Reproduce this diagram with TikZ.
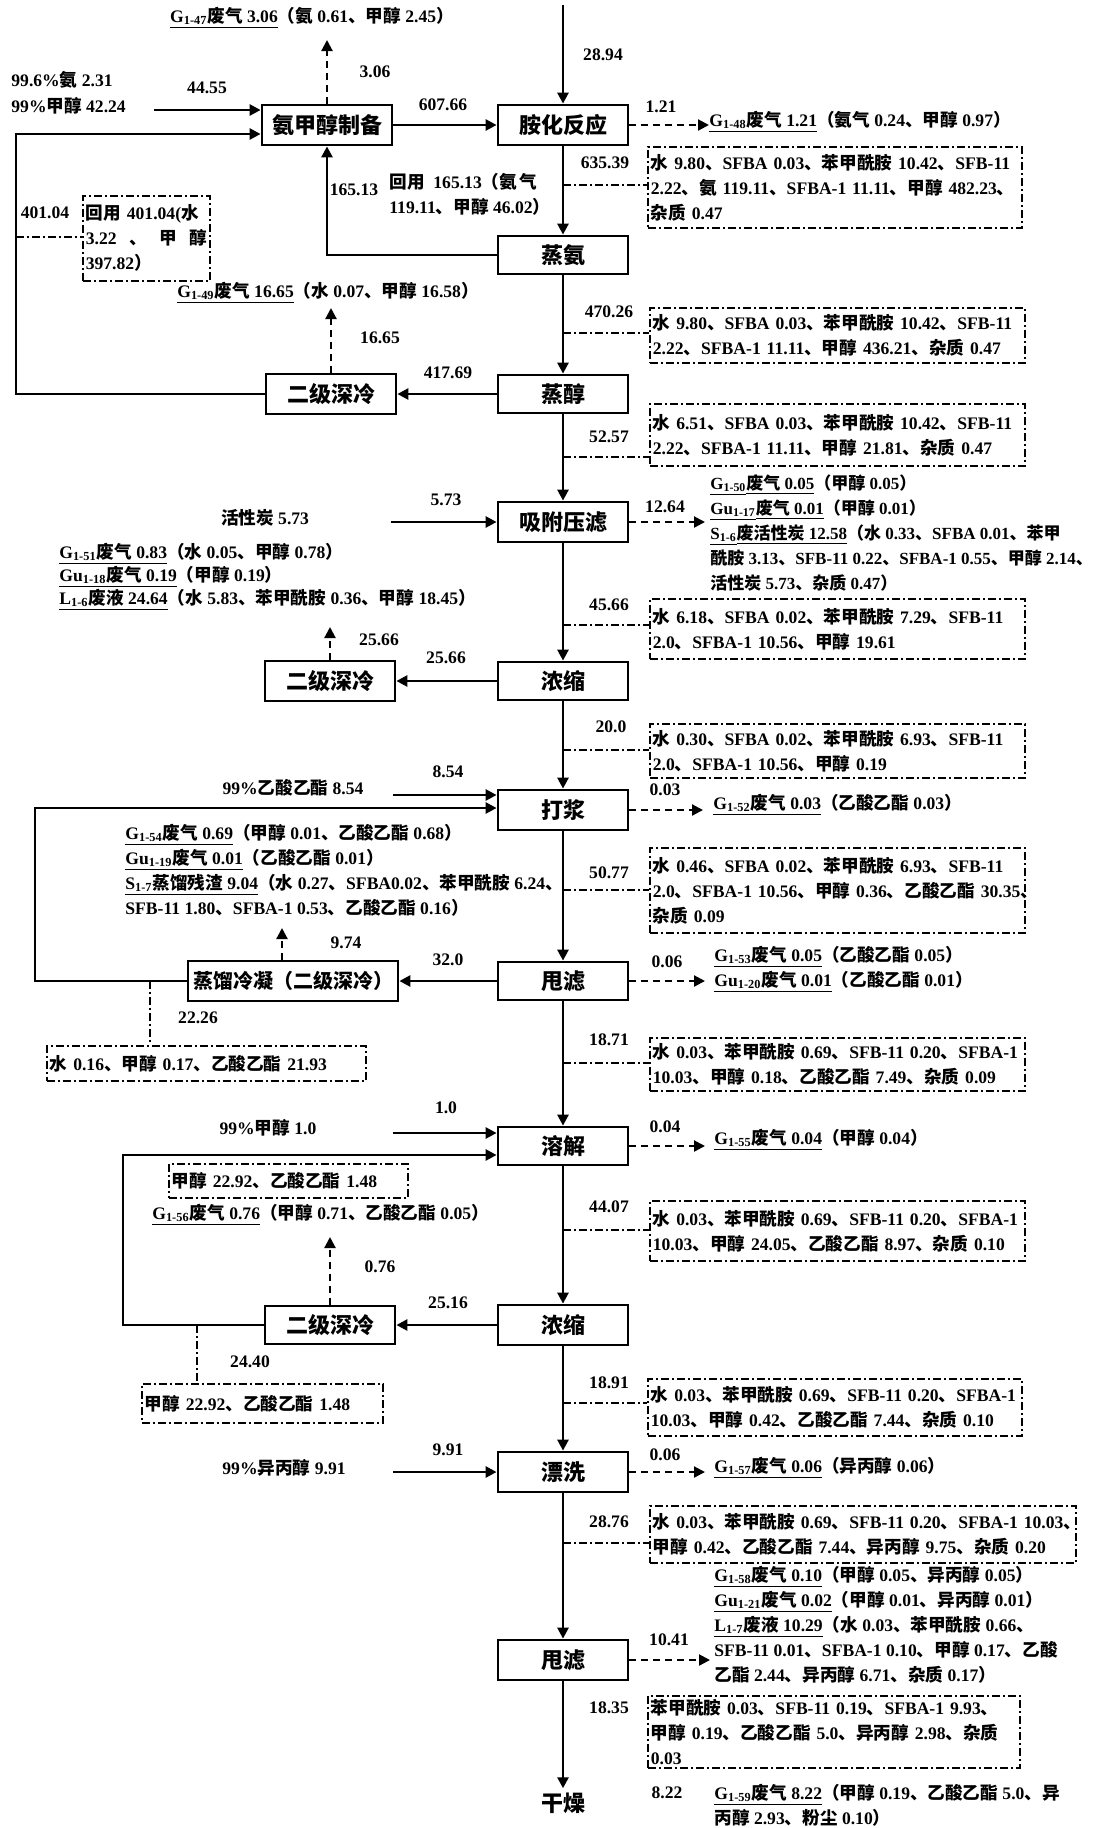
\documentclass[tikz,border=0pt]{standalone}
\usepackage{fontspec}
\setmainfont{Liberation Serif}
\newfontfamily\cjkf{Noto Sans CJK SC}
\usetikzlibrary{arrows.meta}
\newcommand\latf{\rmfamily}
\XeTeXinterchartokenstate=1
\newXeTeXintercharclass\CJKcls
\makeatletter
\def\setcjkrange#1#2{\count@=#1\relax\loop\XeTeXcharclass\count@=\CJKcls\relax\ifnum\count@<#2\relax\advance\count@\@ne\repeat}
\setcjkrange{"3000}{"303F}
\setcjkrange{"4E00}{"9FFF}
\setcjkrange{"FF00}{"FFEF}
\makeatother
\XeTeXinterchartoks 0 \CJKcls = {\cjkf}
\XeTeXinterchartoks 4095 \CJKcls = {\cjkf}
\XeTeXinterchartoks \CJKcls 0 = {\latf}
\XeTeXinterchartoks \CJKcls 4095 = {\latf}
\newcommand\bodyfont{\fontsize{8.8}{12.5}\selectfont\bfseries}
\newcommand\boxfont{\fontsize{11}{13}\selectfont\bfseries}
\newcommand\Lb[1]{\mbox{#1}}
\newcommand\Gs[2]{\underline{#1\textsubscript{#2}}}
\tikzset{
  every node/.style={inner sep=0pt},
  mbox/.style={draw, line width=1.4pt, minimum width=65pt, minimum height=20pt, font=\boxfont},
  dbox/.style={draw, line width=0.8pt, dash pattern=on 4pt off 1.5pt on 1pt off 1.5pt, anchor=north west, align=left, font=\bodyfont, inner xsep=1.5pt},
  arr/.style={line width=1.3pt, -{Triangle[length=5.5pt,width=5.5pt]}},
  darr/.style={line width=1.1pt, dash pattern=on 3.5pt off 2.5pt, -{Triangle[length=5.5pt,width=5.5pt]}},
  ddash/.style={line width=0.8pt, dash pattern=on 4pt off 1.5pt on 1pt off 1.5pt},
  num/.style={font=\bodyfont},
  lbl/.style={font=\bodyfont, anchor=west},
  txt/.style={font=\bodyfont, anchor=north west, align=left}
}
\begin{document}
\begin{tikzpicture}[x=0.5pt,y=-0.5pt]
\useasboundingbox (0,0) rectangle (1109,1828);
\fill[white] (0,0) rectangle (1109,1828);

% main column
\node[mbox] (m1) at (563,125) {胺化反应};
\node[mbox, minimum height=19pt] (m2) at (563,255) {蒸氨};
\node[mbox, minimum height=19pt] (m3) at (563,394) {蒸醇};
\node[mbox] (m4) at (563,522) {吸附压滤};
\node[mbox, minimum height=19pt] (m5) at (563,681) {浓缩};
\node[mbox] (m6) at (563,810) {打浆};
\node[mbox, minimum height=19pt] (m7) at (563,981) {甩滤};
\node[mbox, minimum height=19pt] (m8) at (563,1146) {溶解};
\node[mbox] (m9) at (563,1325) {浓缩};
\node[mbox] (m10) at (563,1472) {漂洗};
\node[mbox] (m11) at (563,1660) {甩滤};
\node[font=\boxfont, inner sep=2pt] (dry) at (563,1803) {干燥};

% left column
\node[mbox] (L1) at (327,125) {氨甲醇制备};
\node[mbox] (L2) at (331,394) {二级深冷};
\node[mbox] (L3) at (330,681) {二级深冷};
\node[mbox, minimum width=105pt, font=\fontsize{10}{12}\selectfont\bfseries] (L4) at (293,981) {蒸馏冷凝（二级深冷）};
\node[mbox, minimum height=19pt] (L5) at (330,1325) {二级深冷};

% dash-dot boxes
\node[dbox, text width=184pt, minimum height=40.5pt] (d1) at (647,146) {\Lb{水 9.80、SFBA 0.03、苯甲酰胺 10.42、SFB-11}\\\Lb{2.22、氨 119.11、SFBA-1 11.11、甲醇 482.23、}\\\Lb{杂质 0.47}};
\node[dbox, text width=184.5pt, minimum height=27.5pt] (d2) at (649,307) {\Lb{水 9.80、SFBA 0.03、苯甲酰胺 10.42、SFB-11}\\\Lb{2.22、SFBA-1 11.11、甲醇 436.21、杂质 0.47}};
\node[dbox, text width=60.5pt, minimum height=42.5pt] (d3) at (82,195) {\Lb{回用 401.04(水}\\\Lb{\hbox to 60.5pt{3.22\hfil 、\hfil 甲\hfil 醇}}\\\Lb{397.82）}};
\node[dbox, text width=184.5pt, minimum height=31pt] (d4) at (649,403) {\Lb{水 6.51、SFBA 0.03、苯甲酰胺 10.42、SFB-11}\\\Lb{2.22、SFBA-1 11.11、甲醇 21.81、杂质 0.47}};
\node[dbox, text width=184.5pt, minimum height=30pt] (d5) at (649,598) {\Lb{水 6.18、SFBA 0.02、苯甲酰胺 7.29、SFB-11}\\\Lb{2.0、SFBA-1 10.56、甲醇 19.61}};
\node[dbox, text width=184.5pt, minimum height=27pt] (d6) at (649,723) {\Lb{水 0.30、SFBA 0.02、苯甲酰胺 6.93、SFB-11}\\\Lb{2.0、SFBA-1 10.56、甲醇 0.19}};
\node[dbox, text width=184.5pt, minimum height=42.5pt] (d7) at (649,847) {\Lb{水 0.46、SFBA 0.02、苯甲酰胺 6.93、SFB-11}\\\Lb{2.0、SFBA-1 10.56、甲醇 0.36、乙酸乙酯 30.35、}\\\Lb{杂质 0.09}};
\node[dbox, text width=156.5pt, minimum height=17.5pt] (d8) at (46,1045) {\Lb{水 0.16、甲醇 0.17、乙酸乙酯 21.93}};
\node[dbox, text width=184.5pt, minimum height=26.5pt] (d9) at (649,1037) {\Lb{水 0.03、苯甲酰胺 0.69、SFB-11 0.20、SFBA-1}\\\Lb{10.03、甲醇 0.18、乙酸乙酯 7.49、杂质 0.09}};
\node[dbox, text width=116.5pt, minimum height=17pt] (d10) at (168,1163) {\Lb{甲醇 22.92、乙酸乙酯 1.48}};
\node[dbox, text width=184.5pt, minimum height=30pt] (d11) at (649,1200) {\Lb{水 0.03、苯甲酰胺 0.69、SFB-11 0.20、SFBA-1}\\\Lb{10.03、甲醇 24.05、乙酸乙酯 8.97、杂质 0.10}};
\node[dbox, text width=117.5pt, minimum height=19.5pt] (d12) at (141,1383) {\Lb{甲醇 22.92、乙酸乙酯 1.48}};
\node[dbox, text width=184pt, minimum height=28.5pt] (d13) at (647,1378) {\Lb{水 0.03、苯甲酰胺 0.69、SFB-11 0.20、SFBA-1}\\\Lb{10.03、甲醇 0.42、乙酸乙酯 7.44、杂质 0.10}};
\node[dbox, text width=210pt, minimum height=28.5pt] (d14) at (649,1505) {\Lb{水 0.03、苯甲酰胺 0.69、SFB-11 0.20、SFBA-1 10.03、}\\\Lb{甲醇 0.42、乙酸乙酯 7.44、异丙醇 9.75、杂质 0.20}};
\node[dbox, text width=183pt, minimum height=36pt] (d15) at (647,1695) {\Lb{苯甲酰胺 0.03、SFB-11 0.19、SFBA-1 9.93、}\\\Lb{甲醇 0.19、乙酸乙酯 5.0、异丙醇 2.98、杂质}\\\Lb{0.03}};

% coordinates
\coordinate (src) at (563,5);
\coordinate (u1) at (327,40);
\coordinate (u2) at (331,308);
\coordinate (u3) at (330,627);
\coordinate (u4) at (282,928);
\coordinate (u5) at (330,1237);
\coordinate (r1) at (709,125);
\coordinate (r4) at (705,522);
\coordinate (r6) at (703,810);
\coordinate (r7) at (705,981);
\coordinate (r8) at (705,1146);
\coordinate (r10) at (705,1472);
\coordinate (r11) at (710,1660);
\coordinate (i1) at (154,110);
\coordinate (i2) at (391,522);
\coordinate (i3) at (393,795);
\coordinate (i4) at (393,1133);
\coordinate (i5) at (393,1472);
\coordinate (lp1) at (16,134);
\coordinate (lp2) at (35,808);
\coordinate (lp3) at (123,1155);
\coordinate (k1) at (563,185);
\coordinate (k2) at (563,333);
\coordinate (k3) at (16,237);
\coordinate (k4) at (563,457);
\coordinate (k5) at (563,625);
\coordinate (k6) at (563,750);
\coordinate (k7) at (563,890);
\coordinate (k8) at (150,981);
\coordinate (k9) at (563,1063);
\coordinate (k11) at (563,1230);
\coordinate (k12) at (197,1325);
\coordinate (k13) at (563,1403);
\coordinate (k14) at (563,1543);

% main flow
\draw[arr] (src) -- (m1);
\draw[arr] (m1) -- (m2);
\draw[arr] (m2) -- (m3);
\draw[arr] (m3) -- (m4);
\draw[arr] (m4) -- (m5);
\draw[arr] (m5) -- (m6);
\draw[arr] (m6) -- (m7);
\draw[arr] (m7) -- (m8);
\draw[arr] (m8) -- (m9);
\draw[arr] (m9) -- (m10);
\draw[arr] (m10) -- (m11);
\draw[arr] (m11) -- (dry);

% side flows
\draw[arr] (L1) -- (m1);
\draw[arr] (m2.west) -| (L1.south);
\draw[arr] (m3) -- (L2);
\draw[arr] (m5) -- (L3);
\draw[arr] (m7) -- (L4);
\draw[arr] (m9) -- (L5);
\draw[arr] (L2.west) -| (lp1) -- (lp1 -| L1.west);
\draw[arr] (L4.west) -| (lp2) -- (lp2 -| m6.west);
\draw[arr] (L5.west) -| (lp3) -- (lp3 -| m8.west);
\draw[arr] (i1) -- (i1 -| L1.west);
\draw[arr] (i2) -- (i2 -| m4.west);
\draw[arr] (i3) -- (i3 -| m6.west);
\draw[arr] (i4) -- (i4 -| m8.west);
\draw[arr] (i5) -- (i5 -| m10.west);

% dashed emissions
\draw[darr] (L1) -- (u1);
\draw[darr] (L2) -- (u2);
\draw[darr] (L3) -- (u3);
\draw[darr] (u4 |- L4.north) -- (u4);
\draw[darr] (L5) -- (u5);
\draw[darr] (m1) -- (r1);
\draw[darr] (m4) -- (r4);
\draw[darr] (m6) -- (r6);
\draw[darr] (m7) -- (r7);
\draw[darr] (m8) -- (r8);
\draw[darr] (m10) -- (r10);
\draw[darr] (m11) -- (r11);

% dash-dot connectors
\draw[ddash] (k1) -- (k1 -| d1.west);
\draw[ddash] (k2) -- (k2 -| d2.west);
\draw[ddash] (k3) -- (k3 -| d3.west);
\draw[ddash] (k4) -- (k4 -| d4.west);
\draw[ddash] (k5) -- (k5 -| d5.west);
\draw[ddash] (k6) -- (k6 -| d6.west);
\draw[ddash] (k7) -- (k7 -| d7.west);
\draw[ddash] (k8) -- (k8 |- d8.north);
\draw[ddash] (k9) -- (k9 -| d9.west);
\draw[ddash] (k11) -- (k11 -| d11.west);
\draw[ddash] (k12) -- (k12 |- d12.north);
\draw[ddash] (k13) -- (k13 -| d13.west);
\draw[ddash] (k14) -- (k14 -| d14.west);

% numbers
\node[num] (n1) at (603,55) {28.94};
\node[num] (n2) at (375,72) {3.06};
\node[num] (n3) at (207,88) {44.55};
\node[num] (n4) at (443,105) {607.66};
\node[num] (n5) at (661,107) {1.21};
\node[num] (n6) at (605,163) {635.39};
\node[num] (n7) at (354,190) {165.13};
\node[num] (n8) at (45,213) {401.04};
\node[num] (n9) at (609,312) {470.26};
\node[num] (n10) at (380,338) {16.65};
\node[num] (n11) at (448,373) {417.69};
\node[num] (n12) at (609,437) {52.57};
\node[num] (n13) at (446,500) {5.73};
\node[num] (n14) at (665,507) {12.64};
\node[num] (n15) at (609,605) {45.66};
\node[num] (n16) at (379,640) {25.66};
\node[num] (n17) at (446,658) {25.66};
\node[num] (n18) at (611,727) {20.0};
\node[num] (n19) at (448,772) {8.54};
\node[num] (n20) at (665,790) {0.03};
\node[num] (n21) at (609,873) {50.77};
\node[num] (n22) at (346,943) {9.74};
\node[num] (n23) at (448,960) {32.0};
\node[num] (n24) at (667,962) {0.06};
\node[num] (n25) at (198,1018) {22.26};
\node[num] (n26) at (609,1040) {18.71};
\node[num] (n27) at (446,1108) {1.0};
\node[num] (n28) at (665,1127) {0.04};
\node[num] (n29) at (609,1207) {44.07};
\node[num] (n30) at (380,1267) {0.76};
\node[num] (n31) at (448,1303) {25.16};
\node[num] (n32) at (250,1362) {24.40};
\node[num] (n33) at (609,1383) {18.91};
\node[num] (n34) at (448,1450) {9.91};
\node[num] (n35) at (665,1455) {0.06};
\node[num] (n36) at (609,1522) {28.76};
\node[num] (n37) at (669,1640) {10.41};
\node[num] (n38) at (609,1708) {18.35};
\node[num] (n39) at (667,1793) {8.22};

% inputs
\node[txt, font=\fontsize{8.8}{13}\selectfont\bfseries] (t1) at (11,71) {99.6\%氨 2.31\\99\%甲醇 42.24};
\node[num] (t2) at (265,518) {活性炭 5.73};
\node[num] (t3) at (293,788) {99\%乙酸乙酯 8.54};
\node[num] (t4) at (268,1128) {99\%甲醇 1.0};
\node[num] (t5) at (284,1468) {99\%异丙醇 9.91};

% emission texts
\node[num] (g47) at (312,18) {\Gs{G}{1-47}\underline{废气 3.06}（氨 0.61、甲醇 2.45）};
\node[lbl] (g48) at (709,122) {\Gs{G}{1-48}\underline{废气 1.21}（氨气 0.24、甲醇 0.97）};
\node[txt] (rec) at (389,173) {回用\ \ 165.13（氨\,气\\119.11、甲醇 46.02）};
\node[num] (g49) at (328,293) {\Gs{G}{1-49}\underline{废气 16.65}（水 0.07、甲醇 16.58）};
\node[txt, font=\fontsize{8.5}{12.5}\selectfont\bfseries] (g50) at (710,474) {\Gs{G}{1-50}\underline{废气 0.05}（甲醇 0.05）\\\Gs{Gu}{1-17}\underline{废气 0.01}（甲醇 0.01）\\\Gs{S}{1-6}\underline{废活性炭 12.58}（水 0.33、SFBA 0.01、苯甲\\酰胺 3.13、SFB-11 0.22、SFBA-1 0.55、甲醇 2.14、\\活性炭 5.73、杂质 0.47）};
\node[txt, font=\fontsize{8.8}{11.5}\selectfont\bfseries] (g51) at (59,543) {\Gs{G}{1-51}\underline{废气 0.83}（水 0.05、甲醇 0.78）\\\Gs{Gu}{1-18}\underline{废气 0.19}（甲醇 0.19）\\\Gs{L}{1-6}\underline{废液 24.64}（水 5.83、苯甲酰胺 0.36、甲醇 18.45）};
\node[lbl] (g52) at (713,805) {\Gs{G}{1-52}\underline{废气 0.03}（乙酸乙酯 0.03）};
\node[txt] (g54) at (125,824) {\Gs{G}{1-54}\underline{废气 0.69}（甲醇 0.01、乙酸乙酯 0.68）\\\Gs{Gu}{1-19}\underline{废气 0.01}（乙酸乙酯 0.01）\\\Gs{S}{1-7}\underline{蒸馏残渣 9.04}（水 0.27、SFBA0.02、苯甲酰胺 6.24、\\SFB-11 1.80、SFBA-1 0.53、乙酸乙酯 0.16）};
\node[txt] (g53) at (714,946) {\Gs{G}{1-53}\underline{废气 0.05}（乙酸乙酯 0.05）\\\Gs{Gu}{1-20}\underline{废气 0.01}（乙酸乙酯 0.01）};
\node[lbl] (g55) at (714,1140) {\Gs{G}{1-55}\underline{废气 0.04}（甲醇 0.04）};
\node[lbl] (g56) at (152,1215) {\Gs{G}{1-56}\underline{废气 0.76}（甲醇 0.71、乙酸乙酯 0.05）};
\node[lbl] (g57) at (714,1468) {\Gs{G}{1-57}\underline{废气 0.06}（异丙醇 0.06）};
\node[txt] (g58) at (714,1566) {\Gs{G}{1-58}\underline{废气 0.10}（甲醇 0.05、异丙醇 0.05）\\\Gs{Gu}{1-21}\underline{废气 0.02}（甲醇 0.01、异丙醇 0.01）\\\Gs{L}{1-7}\underline{废液 10.29}（水 0.03、苯甲酰胺 0.66、\\SFB-11 0.01、SFBA-1 0.10、甲醇 0.17、乙酸\\乙酯 2.44、异丙醇 6.71、杂质 0.17）};
\node[txt] (g59) at (714,1784) {\Gs{G}{1-59}\underline{废气 8.22}（甲醇 0.19、乙酸乙酯 5.0、异\\丙醇 2.93、粉尘 0.10）};
\end{tikzpicture}
\end{document}
